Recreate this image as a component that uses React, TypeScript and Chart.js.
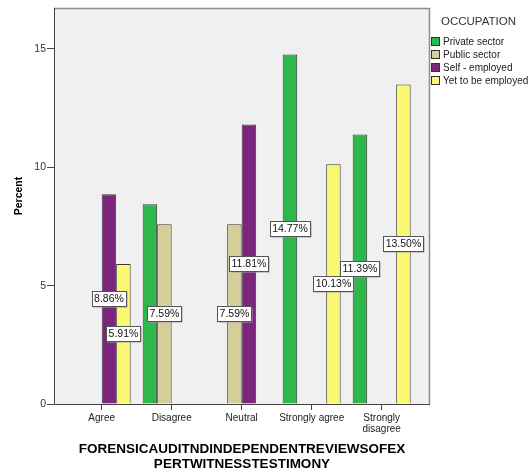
import React, { useEffect, useRef } from 'react';
import { Chart, registerables } from 'chart.js';

Chart.register(...registerables);

const categories: (string | string[])[] = ['Agree', 'Disagree', 'Neutral', 'Strongly agree', ['Strongly', 'disagree']];
const seriesNames = ['Private sector', 'Public sector', 'Self - employed', 'Yet to be employed'];
const privateSector = [null, 8.44, null, 14.77, 11.39];
const publicSector = [null, 7.59, 7.59, null, null];
const selfEmployed = [8.86, null, 11.81, null, null];
const yetToBeEmployed = [5.91, null, null, 10.13, 13.5];
const seriesColors = ['#2eb84b', '#d4cf98', '#7c257d', '#fbf874'];
const unlabeledPrivate = [1];
const yTickValues = [0, 5, 10, 15];
const xTitle = ['FORENSICAUDITNDINDEPENDENTREVIEWSOFEX', 'PERTWITNESSTESTIMONY'];
const yTitle = 'Percent';
const legendTitle = 'OCCUPATION';

const FONT = '"Liberation Sans", Arial, sans-serif';

const toPoints = (arr: (number | null)[]) => arr.map((v, i) => ({ x: i, y: v }));

const plotPlugin = {
  id: 'plotFrame',
  beforeDatasetsDraw(chart: any) {
    const { ctx, chartArea: a } = chart;
    ctx.save();
    ctx.fillStyle = '#f0f0f0';
    ctx.fillRect(a.left, a.top, a.right - a.left, a.bottom - a.top);
    ctx.strokeStyle = '#8c8c8c';
    ctx.lineWidth = 1.5;
    ctx.beginPath();
    ctx.moveTo(a.left, a.top + 0.5);
    ctx.lineTo(a.right - 0.5, a.top + 0.5);
    ctx.lineTo(a.right - 0.5, a.bottom);
    ctx.stroke();
    ctx.strokeStyle = '#444';
    ctx.lineWidth = 1;
    ctx.beginPath();
    ctx.moveTo(a.left + 0.5, a.top);
    ctx.lineTo(a.left + 0.5, a.bottom + 0.5);
    ctx.lineTo(a.right, a.bottom + 0.5);
    ctx.stroke();
    // y axis title
    ctx.save();
    ctx.translate(19, 196);
    ctx.rotate(-Math.PI / 2);
    ctx.font = `bold 10.5px ${FONT}`;
    ctx.fillStyle = '#000';
    ctx.textAlign = 'center';
    ctx.textBaseline = 'middle';
    ctx.fillText(yTitle, 0, 0);
    ctx.restore();
    ctx.restore();
  },
  afterDatasetsDraw(chart: any) {
    const ctx = chart.ctx;
    ctx.save();
    ctx.font = `10.5px ${FONT}`;
    ctx.textAlign = 'center';
    ctx.textBaseline = 'middle';
    chart.data.datasets.forEach((ds: any, di: number) => {
      const meta = chart.getDatasetMeta(di);
      meta.data.forEach((el: any, i: number) => {
        const v = ds.data[i].y;
        if (v == null) return;
        if (ds.skipLabels && ds.skipLabels.includes(i)) return;
        const { x, y, base } = el.getProps(['x', 'y', 'base'], true);
        const cy = (y + base) / 2;
        const text = v.toFixed(2) + '%';
        const w = Math.round(ctx.measureText(text).width + 4);
        const h = 15;
        const lx = Math.round(x - w / 2) + 0.5;
        const ly = Math.round(cy - h / 2) + 0.5;
        ctx.fillStyle = '#a0a0a0';
        ctx.fillRect(lx + 1, ly + 1, w, h);
        ctx.fillStyle = '#ffffff';
        ctx.fillRect(lx, ly, w, h);
        ctx.strokeStyle = '#555';
        ctx.lineWidth = 1;
        ctx.strokeRect(lx, ly, w, h);
        ctx.fillStyle = '#111';
        ctx.fillText(text, x, cy + 0.5);
      });
    });
    ctx.restore();
  },
};

export default function App() {
  const canvasRef = useRef<HTMLCanvasElement | null>(null);

  useEffect(() => {
    if (!canvasRef.current) return;
    Chart.defaults.font.family = FONT;
    const all = [privateSector, publicSector, selfEmployed, yetToBeEmployed];
    const chart = new Chart(canvasRef.current, {
      type: 'bar',
      data: {
        datasets: all.map((arr, i) => ({
          label: seriesNames[i],
          data: toPoints(arr as (number | null)[]),
          backgroundColor: seriesColors[i],
          borderColor: '#3a3a3a',
          borderWidth: 1,
          categoryPercentage: 58 / 70,
          barPercentage: 1,
          skipLabels: i === 0 ? unlabeledPrivate : [],
        })) as any,
      },
      options: {
        animation: false,
        responsive: false,
        layout: { padding: { top: 8, right: 101, left: 0, bottom: 0 } },
        plugins: { legend: { display: false }, tooltip: { enabled: false } },
        scales: {
          x: {
            type: 'linear',
            offset: false,
            min: -0.681,
            max: 4.69,
            afterFit: (s: any) => { s.height = 69; },
            afterBuildTicks: (s: any) => { s.ticks = categories.map((_, i) => ({ value: i })); },
            grid: { display: true, offset: false, drawOnChartArea: false, drawTicks: true, tickLength: 6, color: '#444' },
            border: { display: false },
            ticks: {
              autoSkip: false,
              maxRotation: 0,
              padding: 3,
              color: '#222',
              font: { size: 10, lineHeight: 1.1 },
              callback: (v: any) => categories[v as number] as any,
            },
            title: {
              display: true,
              text: xTitle,
              color: '#000',
              font: { size: 13.5, weight: 'bold', lineHeight: '15px' },
              padding: { top: 0, bottom: 1.5 },
            },
          },
          y: {
            min: 0,
            max: 16.73,
            afterFit: (s: any) => { s.width = 54; },
            afterBuildTicks: (s: any) => { s.ticks = yTickValues.map((v) => ({ value: v })); },
            grid: { display: true, drawOnChartArea: false, drawTicks: true, tickLength: 7, color: '#444' },
            border: { display: false },
            ticks: { padding: 1, color: '#333', font: { size: 10.5 } },
            title: { display: false, text: yTitle },
          },
        },
      },
      plugins: [plotPlugin],
    });
    return () => chart.destroy();
  }, []);

  return (
    <div style={{ position: 'fixed', left: 0, top: 0, width: 531, height: 473, background: '#fff' }}>
      <canvas ref={canvasRef} width={531} height={473} style={{ position: 'absolute', left: 0, top: 0 }} />
      <div style={{ position: 'absolute', left: 441, top: 14, font: `11.5px ${FONT}`, color: '#333', lineHeight: '14px' }}>
        {legendTitle}
      </div>
      {seriesNames.map((name, i) => (
        <div
          key={name}
          style={{
            position: 'absolute',
            left: 431,
            top: 35.3 + i * 12.8,
            height: 12.8,
            display: 'flex',
            alignItems: 'center',
            font: `10px ${FONT}`,
            color: '#222',
            whiteSpace: 'nowrap',
          }}
        >
          <span
            style={{
              display: 'inline-block',
              width: 9,
              height: 9,
              boxSizing: 'border-box',
              border: '1px solid #333',
              background: seriesColors[i],
              marginRight: 3,
            }}
          />
          {name}
        </div>
      ))}
    </div>
  );
}
